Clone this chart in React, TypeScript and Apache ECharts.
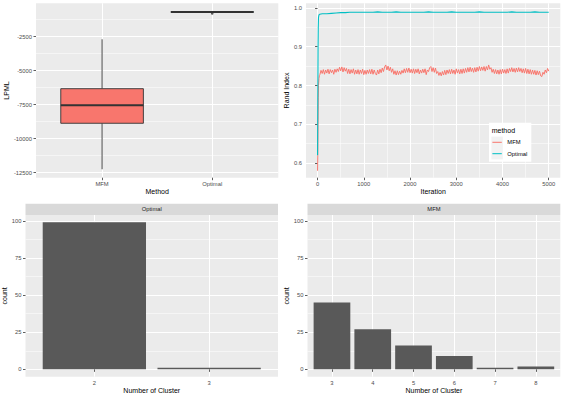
import React, { useEffect, useRef } from 'react';
import * as echarts from 'echarts';

const FONT = '"Liberation Sans", Arial, Helvetica, sans-serif';
const MFM_COLOR = '#F8766D';
const OPT_COLOR = '#00BFC4';
const BAR_COLOR = '#595959';

// ---------- Panel 1: LPML boxplot ----------
const boxMethods = ['MFM', 'Optimal'];
const boxColors = [MFM_COLOR, OPT_COLOR];
const boxLow = [-12250, -720];
const boxQ1 = [-8868, -697];
const boxMedian = [-7544, -684];
const boxQ3 = [-6324, -672];
const boxHigh = [-2690, -650];
const optimalOutliers = [-790];
const lpmlTicks = [-12500, -10000, -7500, -5000, -2500];
const lpmlMinor = [-11250, -8750, -6250, -3750, -1250];

// ---------- Panel 2: Rand index traces ----------
const iterTicks = [0, 1000, 2000, 3000, 4000, 5000];
const iterMinor = [500, 1500, 2500, 3500, 4500];
const randTicks = [0.6, 0.7, 0.8, 0.9, 1.0];
const randMinor = [0.65, 0.75, 0.85, 0.95];

const mfmEarlyIter = [0, 5, 10, 15, 20, 30, 40];
const mfmEarlyRand = [0.58, 0.62, 0.7, 0.77, 0.8, 0.818, 0.826];
const mfmStartIter = 50;
const mfmStep = 25;
const mfmRand = [
  0.828, 0.839, 0.831, 0.841, 0.829, 0.840, 0.832, 0.842,
  0.830, 0.841, 0.833, 0.840, 0.829, 0.842, 0.834, 0.843,
  0.836, 0.847, 0.838, 0.848, 0.835, 0.846, 0.837, 0.844,
  0.831, 0.842, 0.830, 0.841, 0.832, 0.843, 0.829, 0.840,
  0.830, 0.841, 0.829, 0.840, 0.831, 0.842, 0.828, 0.839,
  0.829, 0.840, 0.831, 0.841, 0.830, 0.842, 0.829, 0.840,
  0.831, 0.827, 0.840, 0.830, 0.842, 0.833, 0.845, 0.836,
  0.848, 0.853, 0.840, 0.850, 0.838, 0.847, 0.834, 0.843,
  0.829, 0.838, 0.827, 0.838, 0.828, 0.837, 0.829, 0.839,
  0.832, 0.843, 0.833, 0.844, 0.834, 0.845, 0.833, 0.842,
  0.832, 0.843, 0.831, 0.842, 0.833, 0.843, 0.830, 0.840,
  0.832, 0.842, 0.833, 0.843, 0.828, 0.840, 0.836, 0.846,
  0.849, 0.836, 0.846, 0.834, 0.845, 0.831, 0.836, 0.826,
  0.834, 0.825, 0.836, 0.827, 0.839, 0.828, 0.840, 0.831,
  0.841, 0.830, 0.842, 0.831, 0.840, 0.829, 0.843, 0.832,
  0.841, 0.830, 0.842, 0.831, 0.843, 0.832, 0.844, 0.834,
  0.846, 0.835, 0.847, 0.836, 0.845, 0.834, 0.846, 0.835,
  0.847, 0.837, 0.849, 0.838, 0.848, 0.839, 0.849, 0.837,
  0.849, 0.840, 0.853, 0.842, 0.846, 0.834, 0.842, 0.831,
  0.841, 0.830, 0.840, 0.829, 0.841, 0.830, 0.842, 0.832,
  0.841, 0.831, 0.843, 0.832, 0.844, 0.836, 0.846, 0.835,
  0.844, 0.834, 0.845, 0.835, 0.846, 0.836, 0.844, 0.833,
  0.843, 0.832, 0.844, 0.831, 0.842, 0.830, 0.841, 0.829,
  0.840, 0.829, 0.839, 0.827, 0.838, 0.828, 0.837, 0.825,
  0.823, 0.834, 0.829, 0.840, 0.833, 0.844, 0.837,
];

const optEarlyIter = [0, 5, 10, 15, 20, 30, 50];
const optEarlyRand = [0.62, 0.76, 0.89, 0.95, 0.975, 0.982, 0.984];
const optStartIter = 100;
const optStep = 100;
const optRand = [
  0.985, 0.985, 0.986, 0.987, 0.988, 0.988, 0.989, 0.989, 0.989, 0.989,
  0.989, 0.989, 0.990, 0.989, 0.989, 0.989, 0.990, 0.989, 0.989, 0.989,
  0.989, 0.989, 0.989, 0.990, 0.989, 0.989, 0.989, 0.989, 0.990, 0.989,
  0.989, 0.989, 0.989, 0.989, 0.990, 0.989, 0.989, 0.989, 0.989, 0.989,
  0.989, 0.990, 0.989, 0.989, 0.989, 0.989, 0.990, 0.989, 0.989, 0.989,
];

// ---------- Panels 3 & 4: cluster counts ----------
const optimalClusters = [2, 3];
const optimalCounts = [99, 1];
const mfmClusters = [3, 4, 5, 6, 7, 8];
const mfmCounts = [45, 27, 16, 9, 1, 2];
const countTicks = [0, 25, 50, 75, 100];
const countMinor = [12.5, 37.5, 62.5, 87.5];

// ---------- layout ----------
const G = [
  { left: 36, top: 3.3, width: 242.3, height: 174.4 },
  { left: 306, top: 3.3, width: 254.3, height: 174.4 },
  { left: 25.5, top: 215, width: 252.5, height: 161.7 },
  { left: 307.5, top: 215, width: 252.8, height: 161.7 },
];

const tickStyle = { length: 2.5, lineStyle: { color: '#333333', width: 0.8 } };
const labelStyle = { color: '#4D4D4D', fontSize: 5.8, fontFamily: FONT };
const nameStyle = { color: '#000000', fontSize: 7, fontFamily: FONT };

function majorAxis(gridIndex: number, min: number, max: number, ticks: number[], fmt: (v: number) => string, margin: number, extra: any = {}) {
  return {
    type: 'value',
    gridIndex,
    min,
    max,
    axisLine: { show: false },
    axisTick: { show: true, ...tickStyle, customValues: ticks },
    axisLabel: { show: true, ...labelStyle, margin, customValues: ticks, formatter: (v: number) => fmt(v) },
    splitLine: { show: true, lineStyle: { color: '#FFFFFF', width: 1 } },
    minorTick: { show: false },
    minorSplitLine: { show: false },
    nameTextStyle: nameStyle,
    nameLocation: 'middle',
    ...extra,
  };
}

function minorAxis(gridIndex: number, min: number, max: number, vals: number[], position: string) {
  return {
    type: 'value',
    gridIndex,
    min,
    max,
    position,
    axisLine: { show: false },
    axisTick: { show: false, customValues: vals },
    axisLabel: { show: false, customValues: vals },
    splitLine: { show: true, lineStyle: { color: '#FFFFFF', width: 0.5 } },
  };
}

function barRender(params: any, api: any) {
  const x = api.value(0);
  const y = api.value(1);
  const p0 = api.coord([x - 0.45, 0]);
  const p1 = api.coord([x + 0.45, y]);
  return {
    type: 'rect',
    shape: { x: p0[0], y: p1[1], width: p1[0] - p0[0], height: p0[1] - p1[1] },
    style: { fill: BAR_COLOR },
  };
}

function boxRender(params: any, api: any) {
  const x = api.value(0);
  const low = api.value(1);
  const q1 = api.value(2);
  const med = api.value(3);
  const q3 = api.value(4);
  const high = api.value(5);
  const half = 0.375;
  const pHigh = api.coord([x, high]);
  const pQ3 = api.coord([x, q3]);
  const pQ1 = api.coord([x, q1]);
  const pLow = api.coord([x, low]);
  const pm = api.coord([x, med]);
  const l = api.coord([x - half, med])[0];
  const r = api.coord([x + half, med])[0];
  const stroke = '#333333';
  return {
    type: 'group',
    children: [
      { type: 'line', shape: { x1: pHigh[0], y1: pHigh[1], x2: pQ3[0], y2: pQ3[1] }, style: { stroke, lineWidth: 0.9 } },
      { type: 'line', shape: { x1: pQ1[0], y1: pQ1[1], x2: pLow[0], y2: pLow[1] }, style: { stroke, lineWidth: 0.9 } },
      {
        type: 'rect',
        shape: { x: l, y: pQ3[1], width: r - l, height: pQ1[1] - pQ3[1] },
        style: { fill: boxColors[params.dataIndex], stroke, lineWidth: 0.9 },
      },
      { type: 'line', shape: { x1: l, y1: pm[1], x2: r, y2: pm[1] }, style: { stroke, lineWidth: 1.8 } },
    ],
  };
}

export default function App() {
  const ref = useRef<HTMLDivElement>(null);

  useEffect(() => {
    if (!ref.current) return;
    const chart = echarts.init(ref.current, undefined, { renderer: 'svg' });

    const boxData = boxMethods.map((m, i) => [i + 1, boxLow[i], boxQ1[i], boxMedian[i], boxQ3[i], boxHigh[i]]);
    const mfmLine = mfmEarlyIter
      .map((it, i) => [it, mfmEarlyRand[i]])
      .concat(mfmRand.map((v, i) => [mfmStartIter + i * mfmStep, v]));
    const optLine = optEarlyIter
      .map((it, i) => [it, optEarlyRand[i]])
      .concat(optRand.map((v, i) => [optStartIter + i * optStep, v]));

    const lpmlMin = -12870;
    const lpmlMax = -45;
    const randMin = 0.5621;
    const randMax = 1.0121;
    const cMin = -4.95;
    const cMax = 103.95;

    const strip = (g: any, label: string) => [
      { type: 'rect', z: 50, shape: { x: g.left, y: g.top - 11.3, width: g.width, height: 11.3 }, style: { fill: '#D9D9D9' }, silent: true },
      {
        type: 'text',
        z: 51,
        x: g.left + g.width / 2,
        y: g.top - 5.6,
        style: { text: label, fill: '#1A1A1A', fontSize: 5.8, fontFamily: FONT, align: 'center', verticalAlign: 'middle' },
        silent: true,
      },
    ];

    const legendX = 489;
    const legendY = 122.7;
    const legend = [
      { type: 'rect', z: 100, shape: { x: legendX, y: legendY, width: 42.3, height: 39 }, style: { fill: '#FFFFFF' }, silent: true },
      {
        type: 'text', z: 101, x: legendX + 2.7, y: legendY + 7.3,
        style: { text: 'method', fill: '#000000', fontSize: 7, fontFamily: FONT, align: 'left', verticalAlign: 'middle' },
      },
      { type: 'rect', z: 101, shape: { x: legendX + 2.4, y: legendY + 13.9, width: 11.4, height: 11.4 }, style: { fill: '#F2F2F2' } },
      { type: 'rect', z: 101, shape: { x: legendX + 2.4, y: legendY + 25.3, width: 11.4, height: 11.4 }, style: { fill: '#F2F2F2' } },
      { type: 'line', z: 102, shape: { x1: legendX + 3.4, y1: legendY + 19.6, x2: legendX + 12.8, y2: legendY + 19.6 }, style: { stroke: MFM_COLOR, lineWidth: 1 } },
      { type: 'line', z: 102, shape: { x1: legendX + 3.4, y1: legendY + 31, x2: legendX + 12.8, y2: legendY + 31 }, style: { stroke: OPT_COLOR, lineWidth: 1 } },
      {
        type: 'text', z: 102, x: legendX + 18.3, y: legendY + 19.6,
        style: { text: 'MFM', fill: '#000000', fontSize: 5.8, fontFamily: FONT, align: 'left', verticalAlign: 'middle' },
      },
      {
        type: 'text', z: 102, x: legendX + 18.3, y: legendY + 31,
        style: { text: 'Optimal', fill: '#000000', fontSize: 5.8, fontFamily: FONT, align: 'left', verticalAlign: 'middle' },
      },
    ];

    const option: any = {
      animation: false,
      backgroundColor: '#FFFFFF',
      textStyle: { fontFamily: FONT },
      grid: G.map((g) => ({
        ...g,
        show: true,
        backgroundColor: '#EBEBEB',
        borderWidth: 0,
        containLabel: false,
        outerBoundsMode: 'none',
      })),
      xAxis: [
        majorAxis(0, 0.4, 2.6, [1, 2], (v) => boxMethods[Math.round(v) - 1] || '', 3.5, { name: 'Method', nameGap: 10.5 }),
        majorAxis(1, -250, 5250, iterTicks, (v) => String(v), 3.5, { name: 'Iteration', nameGap: 10.5 }),
        minorAxis(1, -250, 5250, iterMinor, 'top'),
        majorAxis(2, 1.4, 3.6, optimalClusters, (v) => String(v), 3.5, { name: 'Number of Cluster', nameGap: 10.5 }),
        majorAxis(3, 2.4, 8.6, mfmClusters, (v) => String(v), 3.5, { name: 'Number of Cluster', nameGap: 10.5 }),
      ],
      yAxis: [
        majorAxis(0, lpmlMin, lpmlMax, lpmlTicks, (v) => String(v), 4, { name: 'LPML', nameGap: 23.5, nameRotate: 90 }),
        minorAxis(0, lpmlMin, lpmlMax, lpmlMinor, 'right'),
        majorAxis(1, randMin, randMax, randTicks, (v) => v.toFixed(1), 4, { name: 'Rand Index', nameGap: 13.8, nameRotate: 90 }),
        minorAxis(1, randMin, randMax, randMinor, 'right'),
        majorAxis(2, cMin, cMax, countTicks, (v) => String(v), 4, { name: 'count', nameGap: 15.3, nameRotate: 90 }),
        minorAxis(2, cMin, cMax, countMinor, 'right'),
        majorAxis(3, cMin, cMax, countTicks, (v) => String(v), 4, { name: 'count', nameGap: 15.3, nameRotate: 90 }),
        minorAxis(3, cMin, cMax, countMinor, 'right'),
      ],
      series: [
        {
          type: 'custom',
          name: 'LPML',
          xAxisIndex: 0,
          yAxisIndex: 0,
          renderItem: boxRender,
          encode: { x: 0, y: [1, 2, 3, 4, 5] },
          data: boxData,
          z: 3,
        },
        {
          type: 'scatter',
          name: 'Optimal outliers',
          xAxisIndex: 0,
          yAxisIndex: 0,
          symbol: 'circle',
          symbolSize: 2.6,
          itemStyle: { color: '#333333' },
          data: optimalOutliers.map((v) => [2, v]),
          z: 4,
        },
        {
          type: 'line',
          name: 'MFM',
          xAxisIndex: 1,
          yAxisIndex: 2,
          showSymbol: false,
          symbol: 'none',
          lineStyle: { color: MFM_COLOR, width: 1 },
          data: mfmLine,
          z: 3,
        },
        {
          type: 'line',
          name: 'Optimal',
          xAxisIndex: 1,
          yAxisIndex: 2,
          showSymbol: false,
          symbol: 'none',
          lineStyle: { color: OPT_COLOR, width: 1.1 },
          data: optLine,
          z: 4,
        },
        {
          type: 'custom',
          name: 'Optimal count',
          xAxisIndex: 3,
          yAxisIndex: 4,
          renderItem: barRender,
          encode: { x: 0, y: 1 },
          data: optimalClusters.map((c, i) => [c, optimalCounts[i]]),
          z: 3,
        },
        {
          type: 'custom',
          name: 'MFM count',
          xAxisIndex: 4,
          yAxisIndex: 6,
          renderItem: barRender,
          encode: { x: 0, y: 1 },
          data: mfmClusters.map((c, i) => [c, mfmCounts[i]]),
          z: 3,
        },
      ],
      graphic: [...strip(G[2], 'Optimal'), ...strip(G[3], 'MFM'), ...legend],
    };

    chart.setOption(option);
    return () => chart.dispose();
  }, []);

  return (
    <div
      ref={ref}
      style={{ position: 'absolute', left: 0, top: 0, width: 564, height: 399, background: '#FFFFFF' }}
    />
  );
}
